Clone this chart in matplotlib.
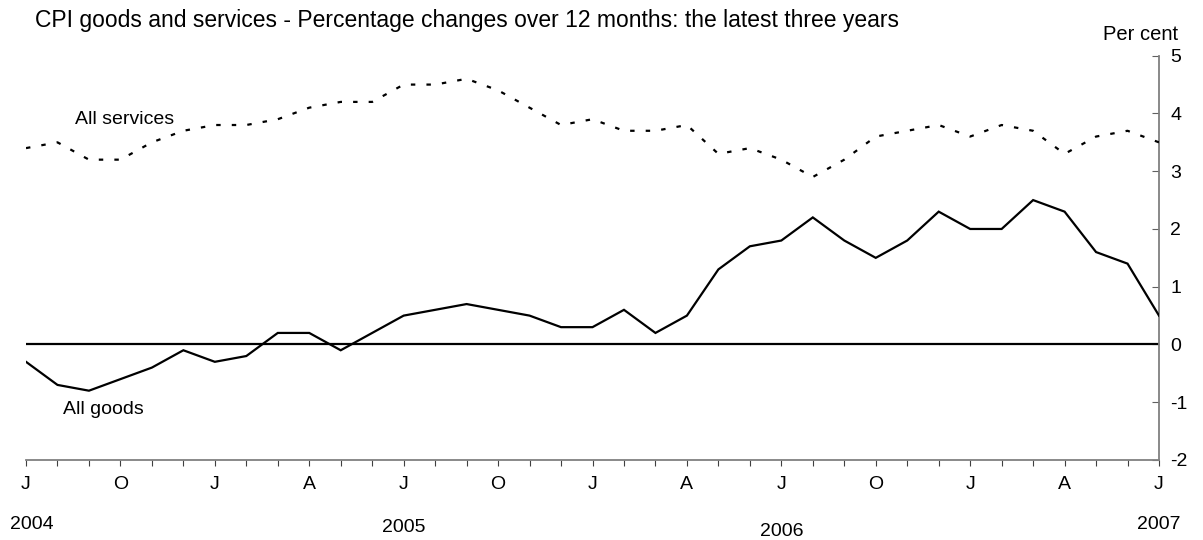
import matplotlib
matplotlib.use("Agg")
import matplotlib.pyplot as plt
from matplotlib.ticker import FixedLocator, MultipleLocator
import matplotlib.transforms as mtransforms

plt.rcParams['font.family'] = ['Liberation Sans', 'DejaVu Sans']

# Monthly data, July 2004 .. July 2007 (37 months)
goods = [-0.3, -0.7, -0.8, -0.6, -0.4, -0.1, -0.3, -0.2, 0.2, 0.2, -0.1, 0.2,
         0.5, 0.6, 0.7, 0.6, 0.5, 0.3, 0.3, 0.6, 0.2, 0.5, 1.3, 1.7,
         1.8, 2.2, 1.8, 1.5, 1.8, 2.3, 2.0, 2.0, 2.5, 2.3, 1.6, 1.4, 0.5]
services = [3.4, 3.5, 3.2, 3.2, 3.5, 3.7, 3.8, 3.8, 3.9, 4.1, 4.2, 4.2,
            4.5, 4.5, 4.6, 4.4, 4.1, 3.8, 3.9, 3.7, 3.7, 3.8, 3.3, 3.4,
            3.2, 2.9, 3.2, 3.6, 3.7, 3.8, 3.6, 3.8, 3.7, 3.3, 3.6, 3.7, 3.5]
month_labels = ['J', 'O', 'J', 'A', 'J', 'O', 'J', 'A', 'J', 'O', 'J', 'A', 'J']
year_labels = ['2004', '2005', '2006', '2007']
year_pos = [0.2, 12, 24, 36]
year_y = [-0.16, -0.166, -0.177, -0.16]
y_ticks = [-2, -1, 0, 1, 2, 3, 4, 5]

months = list(range(len(goods)))

fig = plt.figure(figsize=(12.03, 5.40), dpi=100)
ax = fig.add_axes([26/1203, 1-460/540, (1159-26)/1203, (460-55.7)/540])

ax.axhline(0, color='black', lw=1.6, zorder=2)
ax.plot(months, goods, color='black', lw=1.6, solid_joinstyle='miter', zorder=3)
ax.plot(months, services, color='black', lw=1.6, dashes=(2.0, 5.0), zorder=3)

ax.set_xlim(0, 36)
ax.set_ylim(-2, 5)

for s in ['left', 'top']:
    ax.spines[s].set_visible(False)
for s in ['right', 'bottom']:
    ax.spines[s].set_color('#808080')
    ax.spines[s].set_linewidth(1.3)

ax.yaxis.tick_right()
ax.set_yticks(y_ticks)
ax.set_yticklabels([str(v) for v in y_ticks])
ax.tick_params(axis='y', direction='in', length=5, width=0.8, color='#606060',
               labelsize=14, pad=8)

ax.xaxis.set_major_locator(FixedLocator(list(range(0, 37, 3))))
ax.xaxis.set_minor_locator(MultipleLocator(1))
ax.set_xticklabels(month_labels)
ax.tick_params(axis='x', which='both', direction='out', length=4.5, width=0.8,
               color='#404040', labelsize=14, pad=7)

trans = mtransforms.blended_transform_factory(ax.transData, ax.transAxes)
for lab, xp, yp in zip(year_labels, year_pos, year_y):
    ax.text(xp, yp, lab, transform=trans, ha='center', va='center', fontsize=14)

ax.text(1.56, 3.89, 'All services', ha='left', va='center', fontsize=14)
ax.text(1.18, -1.12, 'All goods', ha='left', va='center', fontsize=14)

fig.text(35/1203, 1-21/540, 'CPI goods and services - Percentage changes over 12 months: the latest three years',
         ha='left', va='center', fontsize=16.5)
fig.text(1141/1203, 1-35/540, 'Per cent', ha='center', va='center', fontsize=14.5)

fig.savefig('out.png', dpi=100)
